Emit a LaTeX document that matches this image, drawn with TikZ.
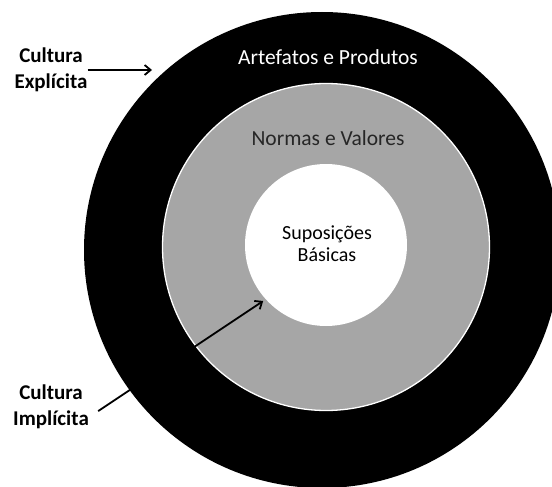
\documentclass[tikz,border=0pt]{standalone}
\usepackage{fontspec}
\setmainfont{Carlito}
\usetikzlibrary{arrows.meta, positioning}
\definecolor{ringgray}{HTML}{A6A6A6}
\tikzset{
  disc/.style={circle, fill=#1, inner sep=0pt},
  lbl/.style={font=\bfseries\fontsize{21}{26}\selectfont, align=center, inner sep=0pt},
  ttl/.style={font=\fontsize{21.5}{23}\selectfont, align=center, inner sep=0pt},
  arr/.style={-{Straight Barb[length=6pt, width=10pt]}, line width=1.8pt},
}
\begin{document}
\begin{tikzpicture}[x=1pt, y=-1pt]
  \useasboundingbox (0,0) rectangle (552,487);
  \clip (0,0) rectangle (552,487);
  \fill[white] (0,0) rectangle (552,487);
  % rings
  \node[disc=black, minimum size=476pt] (outer) at (322,250) {};
  \node[disc=ringgray, draw=white, line width=1.3pt, minimum size=327pt] (mid) at (326,247) {};
  \node[disc=white, minimum size=162pt] (core) at (326,245) {};
  % ring titles
  \node[ttl, text=white] (artef) at (328,57) {Artefatos e Produtos};
  \node[ttl, text=black!85] (normas) at (328,138) {Normas e Valores};
  \node[ttl, font=\fontsize{20}{22}\selectfont] (supos) at (327,244) {Suposições\\Básicas};
  % side labels
  \node[lbl] (expl) at (51,70) {Cultura\\Explícita};
  \node[lbl] (impl) at (51,407) {Cultura\\Implícita};
  \coordinate (explTip) at (152,70);
  \draw[arr] (expl.east) -- (explTip);
  \draw[arr, shorten <=11pt, shorten >=3pt] (impl.-15) -- (core.222);
\end{tikzpicture}
\end{document}
